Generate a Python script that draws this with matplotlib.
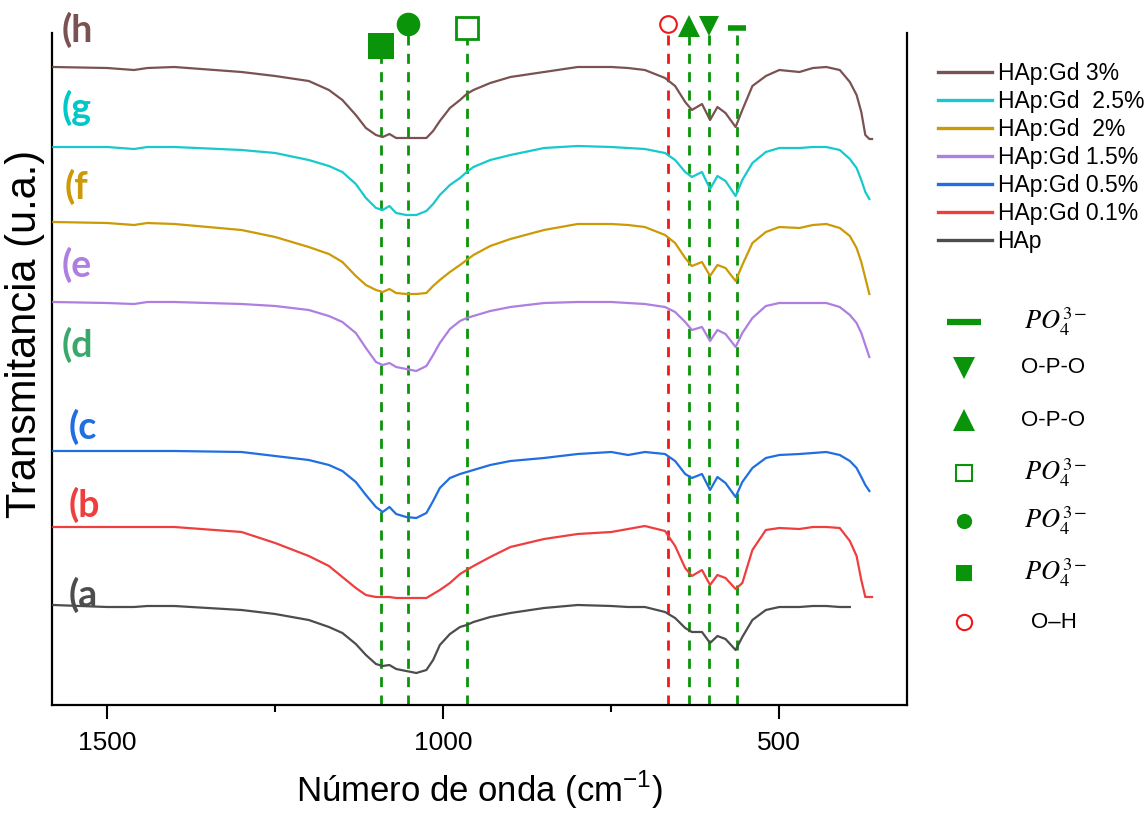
import numpy as np
import matplotlib
matplotlib.use("Agg")
import matplotlib.pyplot as plt
from matplotlib.lines import Line2D

plt.rcParams['font.family'] = ['Liberation Sans', 'DejaVu Sans']

nan = np.nan

# Número de onda (cm^-1), rejilla común de los espectros
numero_onda = [1580, 1500, 1460, 1440, 1400, 1300, 1250, 1200, 1170, 1150,
               1130, 1115, 1100, 1090, 1080, 1070, 1055, 1040, 1025, 1015,
               1005, 990, 975, 965, 955, 930, 900, 850, 800, 750,
               725, 700, 670, 655, 640, 630, 615, 603, 592, 580,
               565, 555, 540, 520, 500, 470, 450, 430, 410, 395,
               385, 378, 372, 366, 362]

# Transmitancia (u.a.), espectros desplazados verticalmente
t_hap = [100, 98, 98, 99, 99, 95, 91, 85, 78, 72,
         61, 50, 41, 39, 40, 36, 34, 32, 35, 45,
         60, 71, 78, 80, 83, 88, 92, 97, 100, 99,
         98, 98, 93, 87, 77, 73, 73, 62, 69, 66,
         55, 68, 85, 95, 98, 98, 99, 99, 98, 98,
         nan, nan, nan, nan, nan]
t_gd01 = [178, 178, 178, 178, 178, 173, 162, 149, 139, 128,
          117, 110, 108, 108, 108, 107, 107, 107, 107, 111,
          115, 122, 131, 135, 139, 148, 158, 166, 171, 173,
          176, 179, 174, 159, 137, 129, 135, 120, 130, 127,
          116, 122, 155, 175, 177, 176, 178, 178, 177, 164,
          149, 125, 108, 108, 108]
t_gd05 = [254, 254, 254, 254, 254, 253, 249, 245, 240, 234,
          223, 210, 198, 193, 198, 191, 188, 187, 192, 204,
          217, 227, 231, 233, 235, 240, 244, 247, 251, 253,
          250, 253, 251, 244, 231, 227, 231, 215, 228, 222,
          208, 223, 237, 247, 250, 251, 252, 253, 250, 244,
          237, 228, 220, 214, nan]
t_gd15 = [403, 402, 401, 403, 403, 401, 399, 395, 389, 383,
          372, 357, 343, 340, 342, 338, 336, 334, 339, 350,
          362, 376, 384, 387, 389, 394, 398, 402, 403, 403,
          402, 401, 398, 393, 383, 375, 378, 364, 375, 371,
          358, 372, 387, 399, 402, 402, 402, 402, 398, 390,
          382, 372, 360, 348, nan]
t_gd2 = [483, 482, 480, 482, 481, 475, 468, 458, 451, 443,
         429, 420, 415, 413, 416, 412, 411, 411, 412, 419,
         425, 433, 440, 445, 450, 459, 466, 475, 481, 481,
         480, 478, 470, 462, 447, 439, 443, 429, 440, 437,
         424, 440, 462, 473, 478, 477, 480, 481, 477, 469,
         457, 443, 427, 411, nan]
t_gd25 = [558, 558, 556, 558, 558, 555, 552, 545, 539, 533,
          521, 507, 497, 495, 499, 492, 490, 490, 494, 501,
          510, 520, 527, 533, 538, 545, 550, 557, 559, 558,
          557, 556, 552, 545, 533, 528, 533, 516, 529, 524,
          509, 525, 542, 553, 557, 557, 558, 558, 555, 546,
          537, 525, 513, 506, nan]
t_gd3 = [638, 637, 635, 637, 638, 633, 629, 624, 615, 605,
         590, 577, 570, 568, 571, 567, 567, 567, 567, 574,
         584, 597, 605, 611, 615, 622, 628, 633, 638, 638,
         637, 635, 627, 619, 603, 595, 601, 585, 598, 592,
         578, 595, 619, 629, 635, 633, 637, 638, 635, 623,
         610, 593, 570, 566, 566]

etiquetas = ["HAp:Gd 3%", "HAp:Gd  2.5%", "HAp:Gd  2%", "HAp:Gd 1.5%",
             "HAp:Gd 0.5%", "HAp:Gd 0.1%", "HAp"]
espectros = [t_gd3, t_gd25, t_gd2, t_gd15, t_gd05, t_gd01, t_hap]
colores = ['#7a5251', '#17c9cc', '#cc9a06', '#ae7fe0', '#1f6fe0', '#ef3e3e', '#4d4d4d']

# Letras de cada muestra
letras = ["(h", "(g", "(f", "(e", "(d", "(c", "(b", "(a"]
letras_color = ['#7a5251', '#00c8c8', '#cc9a06', '#ae7fe0', '#3aa86b', '#1f6fe0', '#ef3e3e', '#4d4d4d']
letras_x = [1567, 1567, 1563, 1567, 1567, 1558, 1558, 1558]
letras_y = [675, 597, 518, 440, 360, 278, 200, 110]

# Bandas de absorción
bandas = [1093, 1052, 964, 665, 634, 605, 563]
bandas_grupo = ["$PO_4^{3-}$", "$PO_4^{3-}$", "$PO_4^{3-}$", "O\u2013H",
                "O-P-O", "O-P-O", "$PO_4^{3-}$"]

verde = '#0a940a'
rojo = '#f01818'
marcador_estilo = [
    dict(marker='s', ms=18.5, mfc=verde, mec=verde, mew=0),
    dict(marker='o', ms=17, mfc=verde, mec=verde, mew=0),
    dict(marker='s', ms=15.5, mfc='white', mec=verde, mew=2),
    dict(marker='o', ms=12, mfc='white', mec=rojo, mew=1.5),
    dict(marker='^', ms=16, mfc=verde, mec=verde, mew=0),
    dict(marker='v', ms=14, mfc=verde, mec=verde, mew=0),
    dict(marker='_', ms=13, mfc=verde, mec=verde, mew=4),
]
marcador_y = [659, 681, 677, 681, 679, 679, 677]
color_linea = [verde, verde, verde, rojo, verde, verde, verde]

W, H = 1145, 814
fig = plt.figure(figsize=(W / 100, H / 100), dpi=100)
ax = fig.add_axes([52 / W, 1 - 705 / H, (907 - 52) / W, (705 - 33) / H])

lineas = []
for y, c, lab in zip(espectros, colores, etiquetas):
    ln, = ax.plot(numero_onda, y, color=c, lw=1.6, label=lab, zorder=3,
                  solid_joinstyle='round')
    lineas.append(ln)

for xb, yb, cl, st in zip(bandas, marcador_y, color_linea, marcador_estilo):
    ax.plot([xb, xb], [0, yb], color=cl, lw=2.0, ls=(0, (3.6, 3.0)),
            zorder=2, clip_on=False)
    ax.plot([xb], [yb], ls='none', zorder=5, clip_on=False, **st)

for t, c, x, y in zip(letras, letras_color, letras_x, letras_y):
    ax.text(x, y, t, color=c, fontsize=27, fontweight='bold', family=['Lato', 'DejaVu Sans'],
            ha='left', va='center')

ax.set_xlim(1582, 310)
ax.set_ylim(0, 672)
ax.set_xticks([1500, 1000, 500])
ax.set_xticks([1250, 750], minor=True)
ax.set_yticks([])
ax.tick_params(axis='x', which='major', direction='out', length=10, width=1.5,
               labelsize=19, pad=9)
ax.tick_params(axis='x', which='minor', direction='out', length=5, width=1.5)
ax.spines['top'].set_visible(False)
for s in ['left', 'right', 'bottom']:
    ax.spines[s].set_linewidth(1.6)

ax.set_xlabel(r'Número de onda (cm$^{\mathregular{-1}}$)', fontsize=25, labelpad=10)
ax.set_ylabel('Transmitancia (u.a.)', fontsize=30)
ax.yaxis.set_label_coords(-0.008, 0.552)

leg1 = fig.legend(handles=lineas, labels=etiquetas, loc='upper left',
                  bbox_to_anchor=(938 / W, 1 - 62 / H), frameon=False,
                  fontsize=16.5, handlelength=2.35, handletextpad=0.25,
                  labelspacing=0.22, borderpad=0, borderaxespad=0)
for h in leg1.legend_handles:
    h.set_linewidth(2.4)

# Leyenda de bandas, una fila por símbolo
orden = [6, 5, 4, 2, 1, 0, 3]
tam_ley = [24, 16.5, 16.5, 11, 11, 11, 11]
fila_y = [322, 368, 420, 473, 521, 573, 622]
for k, ms, fy in zip(orden, tam_ley, fila_y):
    st = dict(marcador_estilo[k])
    st['ms'] = ms
    if st['marker'] == '_':
        st['mew'] = 4.5
    if st['marker'] in ('s', 'o') and st['mfc'] == 'white':
        st['mew'] = 1.5
    fig.add_artist(Line2D([964 / W], [1 - fy / H], ls='none',
                          transform=fig.transFigure, **st))
    lab = bandas_grupo[k]
    if lab.startswith('$'):
        fig.text(1024 / W, 1 - fy / H, lab, fontsize=19, math_fontfamily='stix',
                 ha='left', va='center')
    else:
        x0 = 1031 if lab.startswith('O\u2013') else 1021
        fig.text(x0 / W, 1 - fy / H, lab, fontsize=16, ha='left', va='center')

fig.savefig('out.png', dpi=100)
